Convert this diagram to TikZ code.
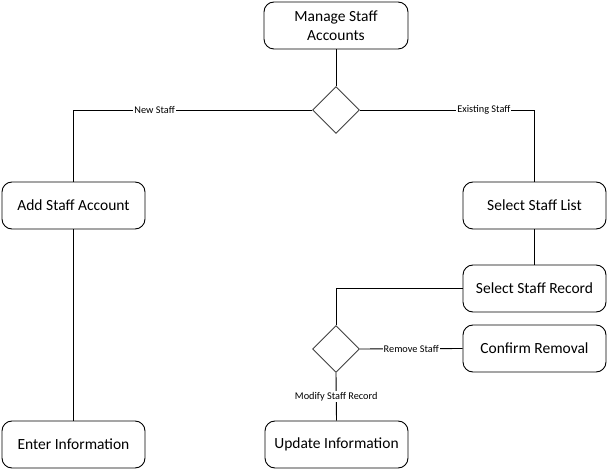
\documentclass[tikz,border=0pt]{standalone}
\usepackage{fontspec}
\setmainfont{Carlito}
\usetikzlibrary{shapes.geometric}
\begin{document}
\begin{tikzpicture}[x=1pt,y=-1pt,
  box/.style={draw=black,line width=0.9pt,rounded corners=10pt,minimum width=143pt,minimum height=47pt,inner sep=0pt,font=\fontsize{15.5}{18.5}\selectfont,align=center},
  dec/.style={draw=black!75,line width=0.9pt,diamond,minimum width=47pt,minimum height=47pt,inner sep=0pt},
  conn/.style={line width=0.9pt,draw=black},
  lab/.style={fill=white,inner sep=1pt,font=\fontsize{10.3}{12}\selectfont}]
\useasboundingbox (0,0) rectangle (608,470);
\node[box,minimum width=144pt] (manage) at (336,25.5) {Manage Staff\\Accounts};
\node[dec] (d1) at (336,110) {};
\node[box] (add) at (73.5,205.5) {Add Staff Account};
\node[box] (enter) at (73.5,444.5) {Enter Information};
\node[box] (list) at (534.5,205.5) {Select Staff List};
\node[box] (record) at (534.5,288.5) {Select Staff Record};
\node[dec] (d2) at (336,349) {};
\node[box] (confirm) at (534.5,348.5) {Confirm Removal};
\node[box] (update) at (336.5,444.5) {Update Information};
\draw[conn] (manage) -- (d1);
\draw[conn] (d1.west) -| node[lab,pos=0.33] {New Staff} (add.north);
\draw[conn] (d1.east) -| node[lab,pos=0.355] {Existing Staff} (list.north);
\draw[conn] (add) -- (enter);
\draw[conn] (list) -- (record);
\draw[conn] (record.west) -| (d2.north);
\draw[conn] (d2.east) -- node[lab] {Remove Staff} (confirm.west);
\draw[conn] (d2.south) -- node[lab,pos=0.5] {Modify Staff Record} (update.north);
\end{tikzpicture}
\end{document}
